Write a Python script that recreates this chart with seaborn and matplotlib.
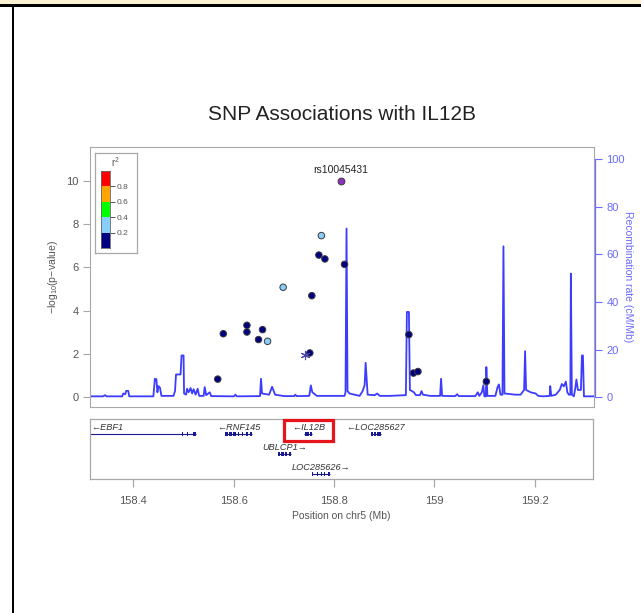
import numpy as np
import pandas as pd
import matplotlib
matplotlib.use("Agg")
import matplotlib.pyplot as plt
import seaborn as sns
from matplotlib.patches import Rectangle

# ---------------- data ----------------
title = "SNP Associations with IL12B"
index_snp = "rs10045431"
index_pos = 158.813
index_logp = 10.01

snp_pos = [158.774, 158.769, 158.781, 158.820, 158.698, 158.755, 158.626, 158.626,
           158.579, 158.657, 158.649, 158.667, 158.751, 158.568, 158.948, 158.957,
           158.966, 159.102]
snp_logp = [7.47, 6.57, 6.39, 6.14, 5.08, 4.69, 3.32, 3.01,
            2.93, 3.12, 2.66, 2.58, 2.04, 0.83, 2.89, 1.11,
            1.18, 0.72]
snp_ld = ["0.2-0.4", "0.0-0.2", "0.0-0.2", "0.0-0.2", "0.2-0.4", "0.0-0.2", "0.0-0.2", "0.0-0.2",
          "0.0-0.2", "0.0-0.2", "0.0-0.2", "0.2-0.4", "0.0-0.2", "0.0-0.2", "0.0-0.2", "0.0-0.2",
          "0.0-0.2", "0.0-0.2"]

star_pos = [158.741]
star_logp = [1.94]

recomb_pos = [158.314, 158.340, 158.344, 158.347, 158.378, 158.380, 158.384, 158.386, 158.390, 158.392,
              158.440, 158.443, 158.446, 158.448, 158.450, 158.453, 158.456, 158.480, 158.483, 158.485,
              158.494, 158.496, 158.500, 158.501, 158.505, 158.507, 158.510, 158.514, 158.517, 158.520,
              158.524, 158.528, 158.531, 158.540, 158.542, 158.545, 158.552, 158.555, 158.600, 158.603,
              158.606, 158.652, 158.654, 158.656, 158.670, 158.676, 158.682, 158.700, 158.720, 158.722,
              158.725, 158.750, 158.753, 158.756, 158.765, 158.820, 158.822, 158.824, 158.826, 158.830,
              158.850, 158.856, 158.860, 158.862, 158.864, 158.866, 158.880, 158.885, 158.890, 158.910,
              158.942, 158.944, 158.948, 158.950, 158.958, 158.962, 158.970, 158.973, 158.976, 158.990,
              159.010, 159.012, 159.014, 159.040, 159.044, 159.047, 159.080, 159.085, 159.088, 159.093,
              159.096, 159.098, 159.101, 159.102, 159.104, 159.120, 159.124, 159.127, 159.130, 159.134,
              159.136, 159.138, 159.160, 159.170, 159.177, 159.179, 159.181, 159.190, 159.200, 159.205,
              159.215, 159.228, 159.229, 159.231, 159.240, 159.248, 159.252, 159.256, 159.260, 159.263,
              159.266, 159.269, 159.270, 159.272, 159.276, 159.279, 159.281, 159.284, 159.290, 159.292,
              159.294, 159.296, 159.316]
recomb_rate = [0.3, 0.3, 0.8, 0.3, 0.3, 1.5, 1.2, 2.6, 2.6, 0.3,
               0.3, 7.7, 7.5, 2.0, 4.6, 4.0, 0.5, 0.5, 2.5, 9.5,
               9.5, 17.5, 17.5, 1.5, 1.0, 3.5, 2.0, 3.8, 1.5, 3.3,
               1.0, 3.5, 0.5, 0.5, 4.2, 0.8, 2.0, 0.4, 0.3, 1.0,
               0.3, 0.4, 7.7, 1.5, 1.0, 4.3, 1.0, 0.4, 0.4, 1.0,
               0.4, 0.5, 4.9, 2.0, 0.5, 0.5, 2.0, 70.9, 2.5, 1.5,
               0.5, 2.5, 5.0, 14.4, 8.0, 1.0, 0.8, 1.5, 0.5, 0.5,
               0.8, 35.8, 35.8, 3.0, 2.0, 0.8, 0.8, 2.5, 1.0, 0.5,
               0.5, 7.7, 0.5, 0.4, 1.2, 0.4, 0.4, 2.0, 0.5, 2.0,
               5.0, 0.3, 0.3, 12.6, 0.5, 0.5, 4.0, 5.3, 1.0, 1.0,
               63.4, 1.5, 1.0, 1.0, 3.0, 19.3, 3.0, 2.0, 1.5, 0.5,
               0.3, 0.5, 4.6, 0.5, 1.0, 3.0, 5.5, 4.5, 6.5, 2.0,
               1.0, 1.0, 51.9, 1.0, 0.3, 4.0, 7.4, 3.0, 3.0, 17.5,
               17.5, 0.3, 0.3]

gene_names = ["EBF1", "RNF145", "IL12B", "LOC285627", "UBLCP1", "LOC285626"]
gene_start = [158.100, 158.583, 158.741, 158.873, 158.689, 158.756]
gene_end = [158.526, 158.637, 158.757, 158.893, 158.714, 158.792]
gene_strand = ["-", "-", "-", "-", "+", "+"]
gene_row = [0, 0, 0, 0, 1, 2]

exon_gene = ["EBF1", "EBF1", "EBF1",
             "RNF145", "RNF145", "RNF145", "RNF145", "RNF145", "RNF145", "RNF145",
             "IL12B", "IL12B", "IL12B",
             "LOC285627", "LOC285627", "LOC285627",
             "UBLCP1", "UBLCP1", "UBLCP1", "UBLCP1",
             "LOC285626", "LOC285626", "LOC285626", "LOC285626", "LOC285626"]
exon_start = [158.498, 158.508, 158.519,
              158.583, 158.591, 158.599, 158.608, 158.616, 158.624, 158.632,
              158.742, 158.747, 158.752,
              158.873, 158.879, 158.886,
              158.689, 158.695, 158.702, 158.711,
              158.756, 158.767, 158.775, 158.781, 158.789]
exon_end = [158.500, 158.510, 158.526,
            158.589, 158.597, 158.605, 158.611, 158.619, 158.628, 158.637,
            158.746, 158.751, 158.757,
            158.877, 158.884, 158.893,
            158.692, 158.700, 158.707, 158.714,
            158.758, 158.769, 158.777, 158.783, 158.792]

highlight_gene = "IL12B"
highlight_x = (158.701, 158.798)

ld_bins = ["0.0-0.2", "0.2-0.4", "0.4-0.6", "0.6-0.8", "0.8-1.0"]
ld_colors = ["#000080", "#87cefa", "#00ff00", "#ffa500", "#ff0000"]
legend_ticks = [0.2, 0.4, 0.6, 0.8]

x_ticks = [158.4, 158.6, 158.8, 159.0, 159.2]
x_tick_labels = ["158.4", "158.6", "158.8", "159", "159.2"]
y_ticks = [0, 2, 4, 6, 8, 10]
recomb_ticks = [0, 20, 40, 60, 80, 100]

# ---------------- style ----------------
sns.set_theme(style="white")
plt.rcParams["font.family"] = ["Liberation Sans", "DejaVu Sans"]
plt.rcParams["mathtext.fontset"] = "custom"
plt.rcParams["mathtext.rm"] = "Liberation Sans"
plt.rcParams["mathtext.it"] = "Liberation Sans:italic"

W, H = 641, 613
GRAY = "#a8a8a8"
TXT = "#555555"
LINE_BLUE = "#3c3cff"
AX_BLUE = "#6a6aff"

fig = plt.figure(figsize=(W / 100, H / 100), dpi=100)

def fr(x0, y0, x1, y1):
    return [x0 / W, 1 - y1 / H, (x1 - x0) / W, (y1 - y0) / H]

# page frame decoration
fig.patches.append(Rectangle((0, 1 - 4 / H), 1, 4 / H, transform=fig.transFigure,
                             facecolor="#fdf1d3", edgecolor="none"))
fig.patches.append(Rectangle((0, 1 - 6.5 / H), 1, 2.8 / H, transform=fig.transFigure,
                             facecolor="black", edgecolor="none"))
fig.patches.append(Rectangle((11.8 / W, 0), 2.4 / W, 1 - 4 / H, transform=fig.transFigure,
                             facecolor="black", edgecolor="none"))

xlim = (158.314, 159.316)
ylim = (-0.46, 11.57)

# ---------------- main panel ----------------
ax = fig.add_axes(fr(90, 147, 594, 407))
ax2 = ax.twinx()
ax.set_zorder(ax2.get_zorder() + 1)
ax.patch.set_visible(False)

sns.lineplot(x=recomb_pos, y=recomb_rate, ax=ax2, color=LINE_BLUE, lw=1.3,
             sort=False, estimator=None)
ax2.set_ylim(ylim[0] * 100 / 11, ylim[1] * 100 / 11)

df = pd.DataFrame({"pos": snp_pos, "logp": snp_logp, "ld": snp_ld})
sns.scatterplot(data=df, x="pos", y="logp", hue="ld",
                palette=dict(zip(ld_bins, ld_colors)), s=22,
                edgecolor="#3a3a3a", linewidth=0.7, legend=False, ax=ax, zorder=3)
sns.scatterplot(x=star_pos, y=star_logp, marker=(6, 2, 0), s=36, color="#4848b0",
                linewidth=0.8, legend=False, ax=ax, zorder=3)
sns.scatterplot(x=[index_pos], y=[index_logp], color="#9030c0", s=24,
                edgecolor="#3a3a3a", linewidth=0.7, legend=False, ax=ax, zorder=4)
ax.annotate(index_snp, (index_pos, index_logp), xytext=(0, 7.5), textcoords="offset points",
            ha="center", va="center", fontsize=7.5, color="#222222")

ax.set_xlim(*xlim)
ax.set_ylim(*ylim)
ax2.set_xlim(*xlim)
ax.set_xticks([])
ax.set_yticks(y_ticks)
ax.set_yticklabels([str(v) for v in y_ticks])
ax.set_xlabel("")
ax.set_ylabel(r"$\mathregular{-log_{10}(p\!-\!value)}$", fontsize=7.5, color=TXT, labelpad=5)
ax.tick_params(axis="y", which="both", left=True, direction="out", length=5, width=0.8,
               color=GRAY, labelsize=8, labelcolor=TXT, pad=3)
for s in ax.spines.values():
    s.set_color(GRAY)
    s.set_linewidth(0.8)
for s in ax2.spines.values():
    s.set_visible(False)
ax2.spines["right"].set_visible(True)
ax2.spines["right"].set_color(AX_BLUE)
ax2.spines["right"].set_linewidth(0.9)
ax2.spines["right"].set_position(("outward", 1))
ax2.spines["right"].set_bounds(0, 100)
ax2.set_yticks(recomb_ticks)
ax2.set_yticklabels([str(v) for v in recomb_ticks])
ax2.tick_params(axis="y", which="both", right=True, direction="out", length=5, width=0.8,
                color=AX_BLUE, labelsize=8, labelcolor=AX_BLUE, pad=3)
ax2.set_ylabel("Recombination rate (cM/Mb)", fontsize=7.5, color=AX_BLUE,
               rotation=270, labelpad=6)
ax2.set_xticks([])
ax2.grid(False)
ax.grid(False)

fig.text((90 + 594) / 2 / W, 1 - 115 / H, title, ha="center", va="center",
         fontsize=15, color="#222222")

# ---------------- r^2 legend ----------------
lf = fig.add_axes(fr(95, 153, 137, 253))
lf.set_xticks([]); lf.set_yticks([])
lf.set_facecolor("white")
for s in lf.spines.values():
    s.set_color(GRAY); s.set_linewidth(0.9)
lf.text(0.48, 0.91, r"$\mathregular{r^2}$", transform=lf.transAxes, ha="center", va="center",
        fontsize=7, color=TXT)
lb = fig.add_axes(fr(101, 171, 110, 248))
bin_bottom = [i * 0.2 for i in range(len(ld_bins))]
lb.bar(x=[0] * len(ld_bins), height=[0.2] * len(ld_bins), bottom=bin_bottom, width=1.0,
       color=ld_colors, edgecolor="none")
lb.set_xlim(-0.5, 0.5)
lb.set_ylim(0.0, 1.0)
lb.set_xticks([])
lb.set_yticks(legend_ticks)
lb.set_yticklabels([f"{v:.1f}" for v in legend_ticks])
lb.yaxis.tick_right()
lb.tick_params(axis="y", right=True, left=False, direction="out", length=3.5, width=0.7,
               color=TXT, labelsize=6, labelcolor=TXT, pad=1.5)
for s in lb.spines.values():
    s.set_color("#666666"); s.set_linewidth(0.6)

# ---------------- gene panel ----------------
g = fig.add_axes(fr(90, 419, 593, 479))
g.set_xlim(*xlim)
g.set_ylim(60, 0)
row_bar_y = {0: 15, 1: 35, 2: 55}
row_lab_y = {0: 8, 1: 28, 2: 48.5}
gy = [row_bar_y[r] for r in gene_row]
g.hlines(gy, gene_start, gene_end, color="#1a1a90", lw=0.8, zorder=2)
gene_row_of = dict(zip(gene_names, gene_row))
ex_y = [row_bar_y[gene_row_of[n]] for n in exon_gene]
ex_w = [e - s for s, e in zip(exon_start, exon_end)]
g.barh(ex_y, ex_w, left=exon_start, height=4.2, color="#1a1a90", edgecolor="none", zorder=3)
for n, s, e, st, r in zip(gene_names, gene_start, gene_end, gene_strand, gene_row):
    lab = ("\u2190" + n) if st == "-" else (n + "\u2192")
    cx = (s + e) / 2
    if cx < xlim[0] + 0.03:
        g.text(xlim[0] + 0.003, row_lab_y[r], lab, ha="left", va="center", fontsize=6.6,
               style="italic", color="#333333")
    else:
        g.text(cx, row_lab_y[r], lab, ha="center", va="center", fontsize=6.6,
               style="italic", color="#333333")
g.add_patch(Rectangle((highlight_x[0], 1), highlight_x[1] - highlight_x[0], 21,
                      fill=False, edgecolor="#e8141c", lw=2.3, clip_on=False, zorder=5))
g.set_yticks([])
g.set_xticks(x_ticks)
g.set_xticklabels(x_tick_labels)
g.tick_params(axis="x", bottom=True, direction="out", length=6, width=0.9, color=GRAY,
              labelsize=8, labelcolor=TXT, pad=6)
g.set_xlabel("Position on chr5 (Mb)", fontsize=7.5, color=TXT, labelpad=4)
for s in g.spines.values():
    s.set_color(GRAY); s.set_linewidth(0.9)
g.grid(False)

fig.savefig("out.png", dpi=100, facecolor="white")
